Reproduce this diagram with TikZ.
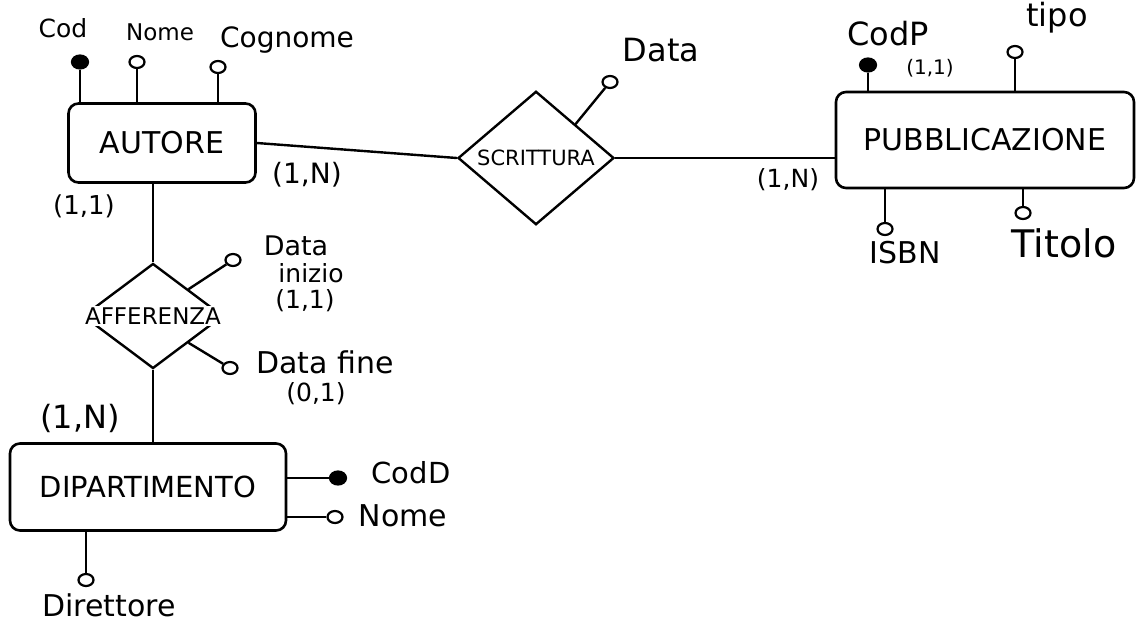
\documentclass[tikz,border=0pt]{standalone}
\usepackage{fontspec}
\setmainfont{DejaVu Sans}
\usetikzlibrary{shapes.geometric}
\newcommand\myfs[1]{\fontsize{#1}{#1}\selectfont}
\begin{document}
\begin{tikzpicture}[x=1pt,y=-1pt,
  ent/.style={draw, line width=2.6pt, rounded corners=10pt, inner sep=0pt},
  rel/.style={draw, diamond, line width=2.4pt, inner sep=0pt},
  attr/.style={draw, ellipse, line width=2.2pt, minimum width=15pt, minimum height=12pt, inner sep=0pt},
  key/.style={attr, fill=black, minimum width=16pt, minimum height=13pt},
  lbl/.style={inner sep=0pt, anchor=center},
  conn/.style={line width=2.4pt}]
\useasboundingbox (0,0) rectangle (1137,626);

% entities
\node[ent, minimum width=187pt, minimum height=79pt] (autore) at (162,143) {\myfs{30}AUTORE};
\node[ent, minimum width=298pt, minimum height=96pt] (pubbl) at (985,140) {\myfs{30}PUBBLICAZIONE};
\node[ent, minimum width=276pt, minimum height=87pt] (dept) at (148,487) {\myfs{29}DIPARTIMENTO};

% relationships
\node[rel, minimum width=156pt, minimum height=132pt] (scr) at (536,158) {\myfs{21}SCRITTURA};
\node[rel, minimum width=140pt, minimum height=105pt,
  label={[lbl, fill=white, inner xsep=6pt, inner ysep=1.5pt]center:{\myfs{23}AFFERENZA}}] (aff) at (153,316) {};

% attributes of AUTORE
\node[key] (cod) at (80,62) {};
\node[attr] (nome) at (137,62) {};
\node[attr] (cognome) at (218,67) {};
\node[lbl] (codt) at (63,28) {\myfs{25}Cod};
\node[lbl] (nomet) at (160,32) {\myfs{23}Nome};
\node[lbl] (cognomet) at (287,40) {\myfs{28}Cognome};
\draw[conn] (cod) -- (cod |- autore.north);
\draw[conn] (nome) -- (nome |- autore.north);
\draw[conn] (cognome) -- (cognome |- autore.north);

% attribute of SCRITTURA
\node[attr] (datas) at (610,82) {};
\node[lbl] (datast) at (661,50) {\myfs{32}Data};
\draw[conn] (datas) -- (scr.north east);

% attributes of PUBBLICAZIONE
\node[key] (codp) at (868,65) {};
\node[lbl] (codpt) at (888,34) {\myfs{32}CodP};
\node[lbl] (codpc) at (930,68) {\myfs{20}(1,1)};
\node[attr] (tipo) at (1015,52) {};
\node[lbl] (tipot) at (1057,18) {\myfs{32}tipo};
\node[attr] (isbn) at (885,229) {};
\node[lbl] (isbnt) at (905,253) {\myfs{30}ISBN};
\node[attr] (titolo) at (1023,213) {};
\node[lbl] (titolot) at (1064,243) {\myfs{38}Titolo};
\draw[conn] (codp) -- (codp |- pubbl.north);
\draw[conn] (tipo) -- (tipo |- pubbl.north);
\draw[conn] (isbn) -- (isbn |- pubbl.south);
\draw[conn] (titolo) -- (titolo |- pubbl.south);

% attributes of AFFERENZA
\node[attr] (dini) at (233,260) {};
\node[lbl] (dinit1) at (296,246) {\myfs{27}Data};
\node[lbl] (dinit2) at (311,273) {\myfs{25}inizio};
\node[lbl] (dinic) at (305,301) {\myfs{25}(1,1)};
\node[attr] (dfin) at (230,368) {};
\node[lbl] (dfint) at (325,362) {\myfs{30}Data fine};
\node[lbl] (dfinc) at (316,394) {\myfs{25}(0,1)};
\draw[conn] (dini) -- (aff.north east);
\draw[conn] (dfin) -- (aff.south east);

% attributes of DIPARTIMENTO
\node[key] (codd) at (338,478) {};
\node[lbl] (coddt) at (411,473) {\myfs{29}CodD};
\node[attr] (nomed) at (335,517) {};
\node[lbl] (nomedt) at (403,516) {\myfs{30}Nome};
\node[attr] (dir) at (86,580) {};
\node[lbl] (dirt) at (109,605) {\myfs{30}Direttore};
\draw[conn] (codd) -- (codd -| dept.east);
\draw[conn] (nomed) -- (nomed -| dept.east);
\draw[conn] (dir) -- (dir |- dept.south);

% relationship connectors
\draw[conn] (autore.east) -- (scr.west);
\draw[conn] (scr.east) -- (scr.east -| pubbl.west);
\draw[conn] (aff.north) -- (aff.north |- autore.south);
\draw[conn] (aff.south) -- (aff.south |- dept.north);

% cardinalities
\node[lbl] (c1) at (307,175) {\myfs{28}(1,N)};
\node[lbl] (c2) at (84,206) {\myfs{26}(1,1)};
\node[lbl] (c3) at (788,180) {\myfs{25}(1,N)};
\node[lbl] (c4) at (80,418) {\myfs{32}(1,N)};
\end{tikzpicture}
\end{document}
